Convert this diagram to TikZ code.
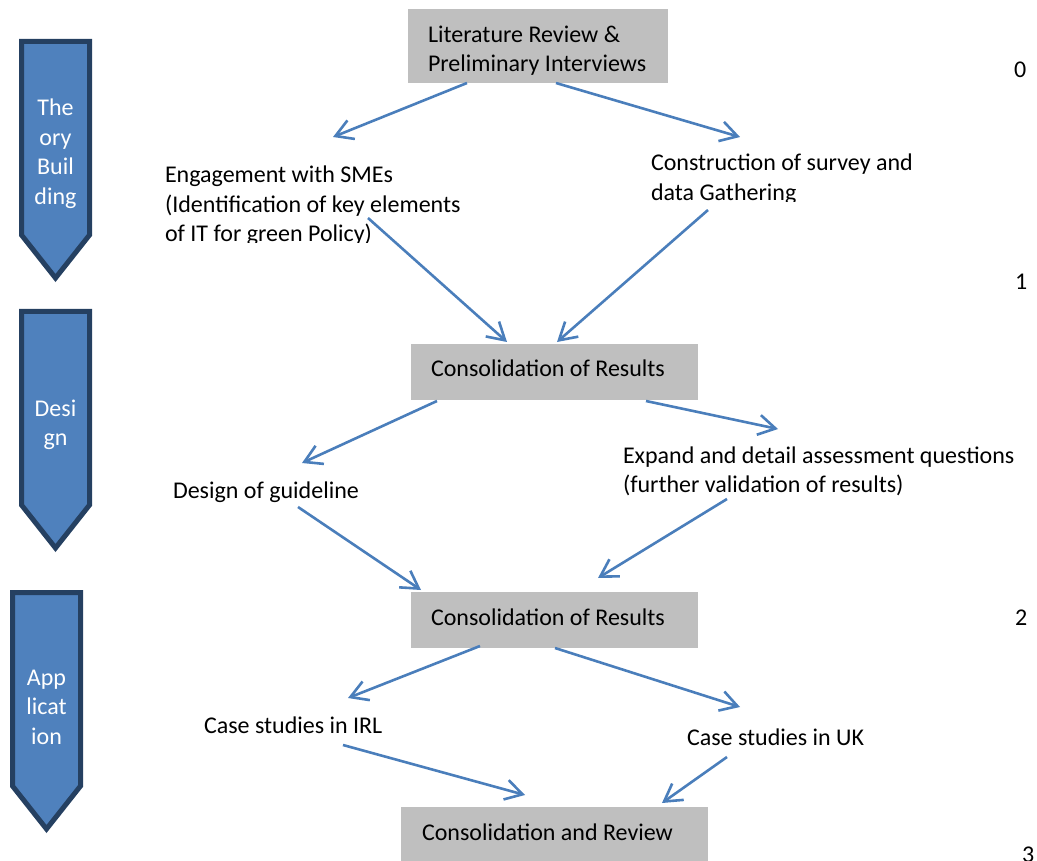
\documentclass[tikz,border=0pt]{standalone}
\usepackage{fontspec}
\setmainfont{Carlito}
\usetikzlibrary{arrows.meta,calc}
\definecolor{boxgray}{RGB}{191,191,191}
\definecolor{arrowblue}{RGB}{74,126,187}
\definecolor{chevfill}{RGB}{79,129,189}
\definecolor{chevline}{RGB}{37,64,97}
\begin{document}
\begin{tikzpicture}[x=1pt,y=-1pt,
  every node/.style={font=\fontsize{24}{29.5}\selectfont, inner sep=0pt, outer sep=0pt},
  graybox/.style={fill=boxgray, draw=none, anchor=north west},
  lbl/.style={anchor=base west, align=left},
  chevtext/.style={text=white, align=center, anchor=base},
  flow/.style={draw=arrowblue, line width=2.6pt, -{Straight Barb[length=17pt,width=20pt,line width=2.6pt]}},
  chev/.style={fill=chevfill, draw=chevline, line width=5pt, line join=miter}]
\useasboundingbox (0,0) rectangle (1037,861);

% side chevrons (multi-line nodes: base = last line)
\draw[chev] (21.5,41.5) -- (89.5,41.5) -- (89.5,235) -- (55.5,278) -- (21.5,235) -- cycle;
\node[chevtext] (ph1) at (55.5,204.5) {The\\ory\\Buil\\ding};
\draw[chev] (21.5,311.5) -- (89.5,311.5) -- (89.5,505) -- (55.5,548) -- (21.5,505) -- cycle;
\node[chevtext] (ph2) at (55.5,445.5) {Desi\\gn};
\draw[chev] (12.5,592.5) -- (80.5,592.5) -- (80.5,786) -- (46.5,829) -- (12.5,786) -- cycle;
\node[chevtext] (ph3) at (46.5,744) {App\\licat\\ion};

% gray boxes
\node[graybox, minimum width=260pt, minimum height=74pt] (lit) at (408,9) {};
\node[lbl] (littxt) at (428,72) {Literature Review \&\\Preliminary Interviews};
\node[graybox, minimum width=287pt, minimum height=56pt] (cons1) at (411,344) {};
\node[lbl] (cons1txt) at (431,376) {Consolidation of Results};
\node[graybox, minimum width=287pt, minimum height=56pt] (cons2) at (411,592) {};
\node[lbl] (cons2txt) at (431,625) {Consolidation of Results};
\node[graybox, minimum width=307pt, minimum height=56pt] (rev) at (401,807) {};
\node[lbl] (revtxt) at (422,840) {Consolidation and Review};

% labels
\begin{scope}
\clip (150,140) rectangle (520,243);
\node[lbl] (eng) at (165,242) {Engagement with SMEs\\(Identification of key elements\\of IT for green Policy)};
\end{scope}
\begin{scope}
\clip (640,140) rectangle (960,202);
\node[lbl] (survey) at (651,200.5) {Construction of survey and\\data Gathering};
\end{scope}
\node[lbl] (design) at (173,498) {Design of guideline};
\node[lbl] (expand) at (623,492.5) {Expand and detail assessment questions\\(further validation of results)};
\node[lbl] (irl) at (204,733) {Case studies in IRL};
\node[lbl] (uk) at (687,745) {Case studies in UK};

% numbers
\node[lbl] (n0) at (1014,78) {0};
\node[lbl] (n1) at (1015,290) {1};
\node[lbl] (n2) at (1015,625) {2};
\node[lbl] (n3) at (1022,862) {3};

% connector ends
\coordinate (engA) at (333,137);
\coordinate (engB) at (368,218);
\coordinate (surA) at (740,137);
\coordinate (surB) at (708,210);
\coordinate (desA) at (302,463);
\coordinate (desB) at (298,507);
\coordinate (expA) at (778,429);
\coordinate (expB) at (727,499);
\coordinate (irlA) at (348,698);
\coordinate (irlB) at (343,745);
\coordinate (ukA) at (740,707);
\coordinate (ukB) at (727,757);

\draw[flow] ($(lit.south west)+(59,0)$) -- (engA);
\draw[flow] ($(lit.south west)+(148,0)$) -- (surA);
\draw[flow] (engB) -- ($(cons1.north west)+(96,-2)$);
\draw[flow] (surB) -- ($(cons1.north west)+(146,-2)$);
\draw[flow] ($(cons1.south west)+(26,1)$) -- (desA);
\draw[flow] ($(cons1.south west)+(235,1)$) -- (expA);
\draw[flow] (desB) -- ($(cons2.north west)+(10,-2)$);
\draw[flow] (expB) -- ($(cons2.north west)+(187,-14)$);
\draw[flow] ($(cons2.south west)+(69,-2)$) -- (irlA);
\draw[flow] ($(cons2.south west)+(144,0)$) -- (ukA);
\draw[flow] (irlB) -- ($(rev.north west)+(124,-12)$);
\draw[flow] (ukB) -- ($(rev.north west)+(261,-4)$);
\end{tikzpicture}
\end{document}
